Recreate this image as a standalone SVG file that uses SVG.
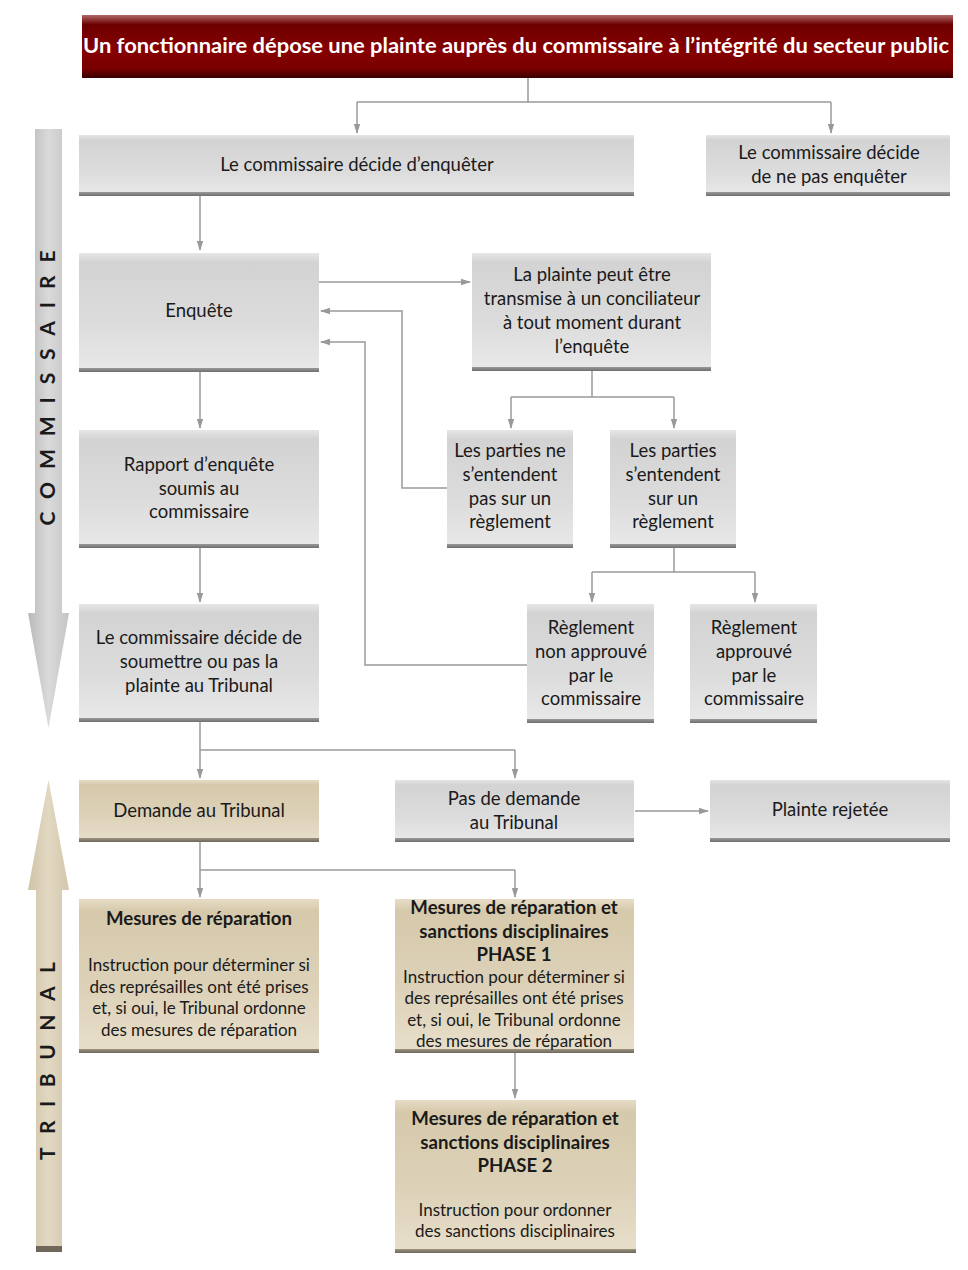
<svg xmlns="http://www.w3.org/2000/svg" width="968" height="1270" viewBox="0 0 968 1270">
<defs>
<linearGradient id="gGray" x1="0" y1="0" x2="0" y2="1">
<stop offset="0" stop-color="#e6e6e6"/><stop offset="0.08" stop-color="#d3d3d3"/><stop offset="0.6" stop-color="#dcdcdc"/><stop offset="1" stop-color="#e9e9e9"/>
</linearGradient>
<linearGradient id="gTan" x1="0" y1="0" x2="0" y2="1">
<stop offset="0" stop-color="#e6dcc6"/><stop offset="0.08" stop-color="#d6c9ab"/><stop offset="0.6" stop-color="#ddd2b9"/><stop offset="1" stop-color="#e8dfcb"/>
</linearGradient>
<linearGradient id="gRed" x1="0" y1="0" x2="0" y2="1">
<stop offset="0" stop-color="#b06a6a"/><stop offset="0.15" stop-color="#6e0000"/><stop offset="0.55" stop-color="#860000"/><stop offset="0.85" stop-color="#7a0000"/><stop offset="1" stop-color="#3a0000"/>
</linearGradient>
<linearGradient id="gShade" x1="0" y1="0" x2="0" y2="1">
<stop offset="0" stop-color="#9a9a9a"/><stop offset="1" stop-color="#6e6e6e"/>
</linearGradient>
<linearGradient id="gShadeTan" x1="0" y1="0" x2="0" y2="1">
<stop offset="0" stop-color="#9a9382"/><stop offset="1" stop-color="#6f685a"/>
</linearGradient>
<linearGradient id="gArrGray" x1="0" y1="0" x2="1" y2="0">
<stop offset="0" stop-color="#b9b9b9"/><stop offset="0.5" stop-color="#dadada"/><stop offset="1" stop-color="#c4c4c4"/>
</linearGradient>
<linearGradient id="gArrTan" x1="0" y1="0" x2="1" y2="0">
<stop offset="0" stop-color="#cfc4a8"/><stop offset="0.5" stop-color="#e2d8c2"/><stop offset="1" stop-color="#d2c7ad"/>
</linearGradient>
<marker id="ah" markerWidth="10" markerHeight="8" refX="9" refY="4" orient="auto" markerUnits="userSpaceOnUse">
<path d="M0,0.8 L10,4 L0,7.2 Z" fill="#999"/>
</marker>
</defs>
<style>
.box{fill:url(#gGray)}
.tan{fill:url(#gTan)}
.sh{fill:url(#gShade)}
.sht{fill:url(#gShadeTan)}
text{font-family:Lato,"Liberation Sans",sans-serif;fill:#1a1a1a;text-anchor:middle}
.t{font-size:18.5px}
.s{font-size:17px}
.b{font-size:18.6px;font-weight:bold}
.title{font-size:20.5px;font-weight:bold;fill:#ffffff}
.side{font-size:21px;font-weight:bold;fill:#1a1a1a}
.c{fill:none;stroke:#9a9a9a;stroke-width:1.5}
.ca{fill:none;stroke:#9a9a9a;stroke-width:1.5;marker-end:url(#ah)}
</style>
<rect width="968" height="1270" fill="#ffffff"/>

<g id="side-commissaire">
<path d="M35,129 L62,129 L62,613 L69,613 L48.5,728 L28,613 L35,613 Z" fill="url(#gArrGray)"/>
<text class="side" transform="translate(55,388) rotate(-90)" textLength="275" lengthAdjust="spacing">COMMISSAIRE</text>
</g>
<g id="side-tribunal">
<path d="M48.5,780 L69,890 L62,890 L62,1252 L36,1252 L36,890 L28,890 Z" fill="url(#gArrTan)"/>
<rect x="36" y="1246" width="26" height="6" fill="#6f685a"/>
<text class="side" transform="translate(55,1061) rotate(-90)" textLength="198" lengthAdjust="spacing">TRIBUNAL</text>
</g>

<g id="connectors">
<path class="c" d="M528,78 V102 M357,102 H831"/>
<path class="ca" d="M357,102 V133"/>
<path class="ca" d="M831,102 V133"/>
<path class="ca" d="M200,196 V250"/>
<path class="ca" d="M319,282 H470"/>
<path class="ca" d="M447,488 H402 V311 H321"/>
<path class="ca" d="M527,665 H365 V342 H321"/>
<path class="c" d="M592,370 V397 M511,397 H674"/>
<path class="ca" d="M511,397 V428"/>
<path class="ca" d="M674,397 V428"/>
<path class="c" d="M674,547 V572 M592,572 H755"/>
<path class="ca" d="M592,572 V602"/>
<path class="ca" d="M755,572 V602"/>
<path class="ca" d="M200,372 V428"/>
<path class="ca" d="M200,547 V602"/>
<path class="c" d="M200,721 V750 H515"/>
<path class="ca" d="M200,750 V778"/>
<path class="ca" d="M515,750 V778"/>
<path class="ca" d="M635,811 H708"/>
<path class="c" d="M200,841 V870 H515"/>
<path class="ca" d="M200,870 V897"/>
<path class="ca" d="M515,870 V897"/>
<path class="ca" d="M515,1052 V1098"/>
</g>

<g id="n-plainte">
<rect x="82" y="15" width="871" height="63" fill="url(#gRed)"/>
<text class="title" x="516" y="53" textLength="866" lengthAdjust="spacingAndGlyphs">Un fonctionnaire dépose une plainte auprès du commissaire à l’intégrité du secteur public</text>
</g>

<g id="n-enqueter">
<rect class="box" x="79" y="135" width="555" height="61"/>
<rect class="sh" x="79" y="192" width="555" height="4"/>
<text class="t" x="357" y="171">Le commissaire décide d’enquêter</text>
</g>

<g id="n-pas-enqueter">
<rect class="box" x="706" y="135" width="244" height="61"/>
<rect class="sh" x="706" y="192" width="244" height="4"/>
<text class="t" x="829" y="159">Le commissaire décide</text>
<text class="t" x="829" y="183">de ne pas enquêter</text>
</g>

<g id="n-enquete">
<rect class="box" x="79" y="253" width="240" height="119"/>
<rect class="sh" x="79" y="368" width="240" height="4"/>
<text class="t" x="199" y="317">Enquête</text>
</g>

<g id="n-conciliateur">
<rect class="box" x="472" y="253" width="239" height="118"/>
<rect class="sh" x="472" y="367" width="239" height="4"/>
<text class="t" x="592" y="281">La plainte peut être</text>
<text class="t" x="592" y="305">transmise à un conciliateur</text>
<text class="t" x="592" y="329">à tout moment durant</text>
<text class="t" x="592" y="353">l’enquête</text>
</g>

<g id="n-pas-entente">
<rect class="box" x="447" y="430" width="126" height="118"/>
<rect class="sh" x="447" y="544" width="126" height="4"/>
<text class="t" x="510" y="457">Les parties ne</text>
<text class="t" x="510" y="481">s’entendent</text>
<text class="t" x="510" y="505">pas sur un</text>
<text class="t" x="510" y="528">règlement</text>
</g>

<g id="n-entente">
<rect class="box" x="610" y="430" width="126" height="118"/>
<rect class="sh" x="610" y="544" width="126" height="4"/>
<text class="t" x="673" y="457">Les parties</text>
<text class="t" x="673" y="481">s’entendent</text>
<text class="t" x="673" y="505">sur un</text>
<text class="t" x="673" y="528">règlement</text>
</g>

<g id="n-rapport">
<rect class="box" x="79" y="430" width="240" height="118"/>
<rect class="sh" x="79" y="544" width="240" height="4"/>
<text class="t" x="199" y="471">Rapport d’enquête</text>
<text class="t" x="199" y="495">soumis au</text>
<text class="t" x="199" y="518">commissaire</text>
</g>

<g id="n-soumettre">
<rect class="box" x="79" y="604" width="240" height="118"/>
<rect class="sh" x="79" y="718" width="240" height="4"/>
<text class="t" x="199" y="644">Le commissaire décide de</text>
<text class="t" x="199" y="668">soumettre ou pas la</text>
<text class="t" x="199" y="692">plainte au Tribunal</text>
</g>

<g id="n-non-approuve">
<rect class="box" x="527" y="604" width="127" height="119"/>
<rect class="sh" x="527" y="719" width="127" height="4"/>
<text class="t" x="591" y="634">Règlement</text>
<text class="t" x="591" y="658">non approuvé</text>
<text class="t" x="591" y="682">par le</text>
<text class="t" x="591" y="705">commissaire</text>
</g>

<g id="n-approuve">
<rect class="box" x="690" y="604" width="127" height="119"/>
<rect class="sh" x="690" y="719" width="127" height="4"/>
<text class="t" x="754" y="634">Règlement</text>
<text class="t" x="754" y="658">approuvé</text>
<text class="t" x="754" y="682">par le</text>
<text class="t" x="754" y="705">commissaire</text>
</g>

<g id="n-demande">
<rect class="tan" x="79" y="780" width="240" height="62"/>
<rect class="sht" x="79" y="838" width="240" height="4"/>
<text class="t" x="199" y="817">Demande au Tribunal</text>
</g>

<g id="n-pas-demande">
<rect class="box" x="395" y="780" width="239" height="62"/>
<rect class="sh" x="395" y="838" width="239" height="4"/>
<text class="t" x="514" y="805">Pas de demande</text>
<text class="t" x="514" y="829">au Tribunal</text>
</g>

<g id="n-rejetee">
<rect class="box" x="710" y="780" width="240" height="62"/>
<rect class="sh" x="710" y="838" width="240" height="4"/>
<text class="t" x="830" y="816">Plainte rejetée</text>
</g>

<g id="n-reparation">
<rect class="tan" x="79" y="899" width="240" height="154"/>
<rect class="sht" x="79" y="1049" width="240" height="4"/>
<text class="b" x="199" y="925">Mesures de réparation</text>
<text class="s" x="199" y="971">Instruction pour déterminer si</text>
<text class="s" x="199" y="993">des représailles ont été prises</text>
<text class="s" x="199" y="1014">et, si oui, le Tribunal ordonne</text>
<text class="s" x="199" y="1036">des mesures de réparation</text>
</g>

<g id="n-phase1">
<rect class="tan" x="395" y="899" width="239" height="154"/>
<rect class="sht" x="395" y="1049" width="239" height="4"/>
<text class="b" x="514" y="914">Mesures de réparation et</text>
<text class="b" x="514" y="938">sanctions disciplinaires</text>
<text class="b" x="514" y="961">PHASE 1</text>
<text class="s" x="514" y="983">Instruction pour déterminer si</text>
<text class="s" x="514" y="1004">des représailles ont été prises</text>
<text class="s" x="514" y="1026">et, si oui, le Tribunal ordonne</text>
<text class="s" x="514" y="1047">des mesures de réparation</text>
</g>

<g id="n-phase2">
<rect class="tan" x="395" y="1100" width="241" height="153"/>
<rect class="sht" x="395" y="1249" width="241" height="4"/>
<text class="b" x="515" y="1125">Mesures de réparation et</text>
<text class="b" x="515" y="1149">sanctions disciplinaires</text>
<text class="b" x="515" y="1172">PHASE 2</text>
<text class="s" x="515" y="1216">Instruction pour ordonner</text>
<text class="s" x="515" y="1237">des sanctions disciplinaires</text>
</g>
</svg>
